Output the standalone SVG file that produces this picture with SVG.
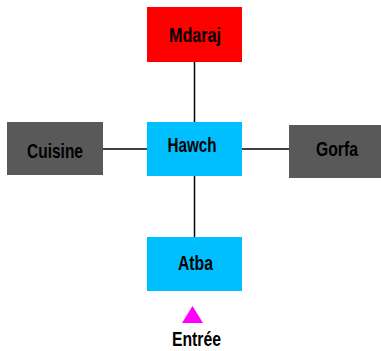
<svg xmlns="http://www.w3.org/2000/svg" width="381" height="351" viewBox="0 0 381 351">
<style>
.lbl{font-family:"Liberation Sans",Arial,sans-serif;font-weight:bold;font-size:20px;fill:#000;text-anchor:middle}
.ln{stroke:#000;stroke-width:1.5;fill:none}
</style>
<rect width="381" height="351" fill="#fff"/>
<g id="connectors">
<line class="ln" x1="194.5" y1="62" x2="194.5" y2="122"/>
<line class="ln" x1="194.5" y1="176" x2="194.5" y2="237"/>
<line class="ln" x1="103" y1="149" x2="147" y2="149"/>
<line class="ln" x1="242" y1="149" x2="289" y2="149"/>
</g>
<g id="mdaraj">
<rect x="147" y="7" width="95" height="55" fill="#ff0000"/>
<text class="lbl" x="195" y="42" textLength="52" lengthAdjust="spacingAndGlyphs">Mdaraj</text>
</g>
<g id="cuisine">
<rect x="7" y="122" width="96" height="53" fill="#595959"/>
<text class="lbl" x="55" y="158" textLength="56" lengthAdjust="spacingAndGlyphs">Cuisine</text>
</g>
<g id="hawch">
<rect x="147" y="122" width="95" height="54" fill="#00bfff"/>
<text class="lbl" x="192" y="152" textLength="49" lengthAdjust="spacingAndGlyphs">Hawch</text>
</g>
<g id="gorfa">
<rect x="289" y="125" width="92" height="53" fill="#595959"/>
<text class="lbl" x="337" y="156" textLength="42" lengthAdjust="spacingAndGlyphs">Gorfa</text>
</g>
<g id="atba">
<rect x="147" y="237" width="95" height="54" fill="#00bfff"/>
<text class="lbl" x="195.5" y="270" textLength="35" lengthAdjust="spacingAndGlyphs">Atba</text>
</g>
<g id="entree">
<polygon points="192.5,306 203,323 182,323" fill="#ff00ff"/>
<text class="lbl" x="196.5" y="346" textLength="49" lengthAdjust="spacingAndGlyphs">Entrée</text>
</g>
</svg>
